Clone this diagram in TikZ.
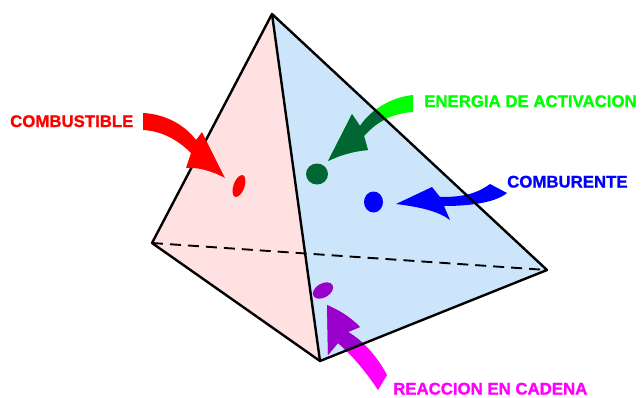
\documentclass[tikz,border=0pt]{standalone}
\usepackage{fontspec}
\setmainfont{Liberation Sans}
\newfontfamily\labelfont{Liberation Sans}[BoldFeatures={FakeBold=1.2}]
\usetikzlibrary{shapes.geometric}
\definecolor{facepink}{HTML}{FFE1E1}
\definecolor{faceblue}{HTML}{CCE5FA}
\definecolor{fuelred}{HTML}{FF0000}
\definecolor{energygreen}{HTML}{00FF00}
\definecolor{oxidizerblue}{HTML}{0000FF}
\definecolor{chainmagenta}{HTML}{FF00FF}
\definecolor{darkgreen}{HTML}{006633}
\definecolor{darkpurple}{HTML}{9900CC}
\tikzset{
	edgeline/.style={
			draw=black,
			line width=2.4bp,
			line join=round
		},
	hiddenline/.style={
			draw=black,
			line width=1.9bp,
			dash pattern=on 11bp off 7bp
		},
	labelnode/.style={
			anchor=base west,
			inner sep=0pt,
			font=\labelfont\bfseries\fontsize{16.8bp}{20bp}\selectfont
		},
	dotnode/.style={
			ellipse,
			draw=none,
			inner sep=0pt
		}
}
\newcommand{\energyarrow}{(413,95) .. controls (393,97) and (372,108) .. (360,126) -- (352,114) -- (328,161) .. controls (345,153) and (358,151) .. (368,150) -- (364,136) .. controls (378,120) and (395,113) .. (413,112) -- cycle}
\newcommand{\chainarrow}{(387,375) .. controls (378,358) and (365,342) .. (348,332) -- (360,327) .. controls (348,315) and (338,310) .. (327,305) -- (328,355) -- (338,343) .. controls (355,358) and (368,375) .. (378,390) -- cycle}

\begin{document}
\begin{tikzpicture}[x=1bp, y=-1bp]
\useasboundingbox (0,0) rectangle (641,397);

\coordinate (top) at (272,14);
\coordinate (left) at (152,243);
\coordinate (bottom) at (320,361);
\coordinate (right) at (547,270);

\fill[facepink] (top) -- (left) -- (bottom) -- cycle;
\fill[faceblue] (top) -- (bottom) -- (right) -- cycle;
\draw[hiddenline] (left) -- (right);

\fill[energygreen] \energyarrow;
\fill[chainmagenta] \chainarrow;
\begin{scope}
	\clip (top) -- (bottom) -- (right) -- cycle;
	\fill[darkgreen] \energyarrow;
	\fill[darkpurple] \chainarrow;
\end{scope}
\fill[oxidizerblue] (490,184) .. controls (475,195) and (460,197) .. (440,197) -- (432,187) -- (396,204) .. controls (420,207) and (438,211) .. (450,220) -- (444,206) .. controls (468,206) and (495,203) .. (507,193) -- cycle;

\draw[edgeline] (left) -- (top) -- (right) -- (bottom) -- cycle;
\draw[edgeline] (top) -- (bottom);

\fill[fuelred] (143,113) .. controls (165,114) and (185,125) .. (196,140) -- (202,132) -- (225,178) .. controls (210,170) and (196,167) .. (186,168) -- (191,153) .. controls (178,140) and (162,131) .. (143,130) -- cycle;

\node[dotnode, fill=fuelred, minimum width=11bp, minimum height=23bp, rotate=-20] (fueldot) at (239,186) {};
\node[dotnode, fill=darkgreen, minimum width=22bp, minimum height=21bp] (energydot) at (317,174) {};
\node[dotnode, fill=oxidizerblue, minimum width=19bp, minimum height=21bp] (oxidizerdot) at (373.5,202) {};
\node[dotnode, fill=darkpurple, minimum width=22bp, minimum height=14bp, rotate=30] (chaindot) at (323,290.5) {};

\node[labelnode, text=fuelred] (fuel) at (10,127) {COMBUSTIBLE};
\node[labelnode, text=energygreen] (energy) at (424,107) {ENERGIA DE ACTIVACION};
\node[labelnode, text=oxidizerblue] (oxidizer) at (507,187.5) {COMBURENTE};
\node[labelnode, text=chainmagenta] (chain) at (393,394.5) {REACCION EN CADENA};

\end{tikzpicture}
\end{document}
